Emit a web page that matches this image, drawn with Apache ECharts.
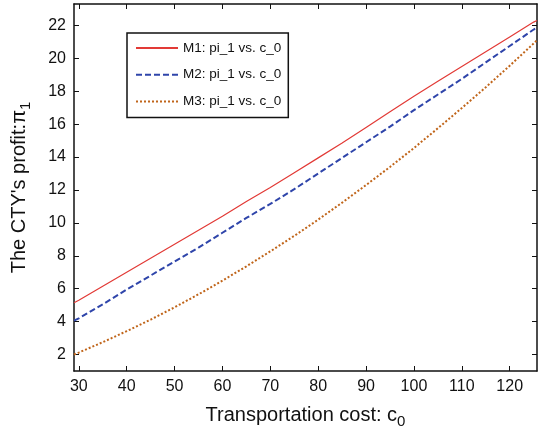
<!DOCTYPE html>
<html>
<head>
<meta charset="utf-8">
<script src="https://cdn.jsdelivr.net/npm/echarts@6/dist/echarts.min.js"></script>
<style>
  html, body { margin: 0; padding: 0; background: #fff; }
  #chart { width: 539px; height: 434px; }
</style>
</head>
<body>
<div id="chart"></div>
<script>
// transportation cost c_0 (x)
var costX = [29, 30, 35, 40, 45, 50, 55, 60, 65, 70, 75, 80, 85, 90, 95, 100, 105, 110, 115, 120, 125, 125.7]
// profit pi_1 for the three models
var m1Data = [5.15, 5.3, 6.15, 7.0, 7.85, 8.7, 9.55, 10.4, 11.3, 12.15, 13.05, 13.95, 14.85, 15.8, 16.75, 17.7, 18.6, 19.5, 20.4, 21.3, 22.2, 22.3]
var m2Data = [4.06, 4.2, 5.05, 5.95, 6.8, 7.65, 8.5, 9.4, 10.3, 11.15, 12.05, 13.0, 13.95, 14.9, 15.85, 16.85, 17.8, 18.75, 19.75, 20.75, 21.75, 21.86]
var m3Data = [2.0, 2.12, 2.75, 3.42, 4.12, 4.87, 5.66, 6.49, 7.36, 8.27, 9.21, 10.2, 11.23, 12.3, 13.4, 14.55, 15.75, 16.98, 18.24, 19.55, 20.9, 21.1]
var xTicks = [30, 40, 50, 60, 70, 80, 90, 100, 110, 120]
var yTicks = [2, 4, 6, 8, 10, 12, 14, 16, 18, 20, 22]
var seriesNames = ['M1: pi_1 vs. c_0', 'M2: pi_1 vs. c_0', 'M3: pi_1 vs. c_0']

function pairs (ys) {
  var out = []
  for (var i = 0; i < costX.length; i++) {
    out.push([costX[i], ys[i]])
  }
  return out
}

var font = 'Liberation Sans, Arial, sans-serif'
var axisColor = '#111'

// shared style for the box axes (ticks inside, MATLAB look)
function boxAxis (base, showLabel) {
  return Object.assign({
    type: 'value',
    axisLine: { show: true, onZero: false, lineStyle: { color: axisColor, width: 1.5 } },
    axisTick: { show: true, inside: true, length: 5, lineStyle: { color: axisColor, width: 1 } },
    splitLine: { show: false },
    axisLabel: { show: showLabel, color: '#111', fontSize: 16, fontFamily: font }
  }, base)
}

var chart = echarts.init(document.getElementById('chart'), null, { renderer: 'canvas' })
var option = {
  animation: false,
  grid: { left: 74, right: 2, top: 4, bottom: 59, containLabel: false },
  legend: {
    data: seriesNames,
    orient: 'vertical',
    left: 127,
    top: 33,
    itemWidth: 42,
    itemHeight: 14,
    itemGap: 12.7,
    padding: [8, 7, 9, 8],
    borderColor: '#111',
    borderWidth: 1.5,
    backgroundColor: '#fff',
    // hide the default circle marker, keep only the line sample
    itemStyle: { color: 'rgba(0,0,0,0)', borderColor: 'rgba(0,0,0,0)', borderWidth: 0 },
    textStyle: { fontSize: 13.5, color: '#111', fontFamily: font }
  },
  xAxis: [
    boxAxis({
      min: 29,
      max: 125.7,
      position: 'bottom',
      name: 'Transportation cost: c{sub|0}',
      nameLocation: 'middle',
      nameGap: 31,
      nameTextStyle: {
        fontSize: 20, color: '#111', fontFamily: font,
        rich: { sub: { fontSize: 15, color: '#111', fontFamily: font, verticalAlign: 'bottom', padding: [12, 0, 0, 0] } }
      },
      axisTick: { show: true, inside: true, length: 5, customValues: xTicks, lineStyle: { color: axisColor, width: 1 } },
      axisLabel: { show: true, margin: 8, customValues: xTicks, color: '#111', fontSize: 16, fontFamily: font }
    }, true),
    boxAxis({
      min: 29,
      max: 125.7,
      position: 'top',
      axisTick: { show: true, inside: true, length: 5, customValues: xTicks, lineStyle: { color: axisColor, width: 1 } }
    }, false)
  ],
  yAxis: [
    boxAxis({
      min: 1,
      max: 23.3,
      position: 'left',
      name: 'The CTY\'s profit:π{sub|1}',
      nameLocation: 'middle',
      nameGap: 41,
      nameTextStyle: {
        fontSize: 20, color: '#111', fontFamily: font,
        rich: { sub: { fontSize: 15, color: '#111', fontFamily: font, padding: [12, 0, 0, 0] } }
      },
      axisTick: { show: true, inside: true, length: 5, customValues: yTicks, lineStyle: { color: axisColor, width: 1 } },
      axisLabel: { show: true, margin: 8, customValues: yTicks, color: '#111', fontSize: 16, fontFamily: font }
    }, true),
    boxAxis({
      min: 1,
      max: 23.3,
      position: 'right',
      axisTick: { show: true, inside: true, length: 5, customValues: yTicks, lineStyle: { color: axisColor, width: 1 } }
    }, false)
  ],
  series: [
    {
      name: seriesNames[0],
      type: 'line',
      symbol: 'none',
      data: pairs(m1Data),
      itemStyle: { color: '#e23a36' },
      lineStyle: { color: '#e23a36', width: 1.2, type: 'solid' }
    },
    {
      name: seriesNames[1],
      type: 'line',
      symbol: 'none',
      data: pairs(m2Data),
      itemStyle: { color: '#2f45aa' },
      lineStyle: { color: '#2f45aa', width: 2, type: [6, 3] }
    },
    {
      name: seriesNames[2],
      type: 'line',
      symbol: 'none',
      data: pairs(m3Data),
      itemStyle: { color: '#c0651a' },
      lineStyle: { color: '#c0651a', width: 2, type: [2, 2] }
    }
  ]
}
chart.setOption(option)
</script>
</body>
</html>
